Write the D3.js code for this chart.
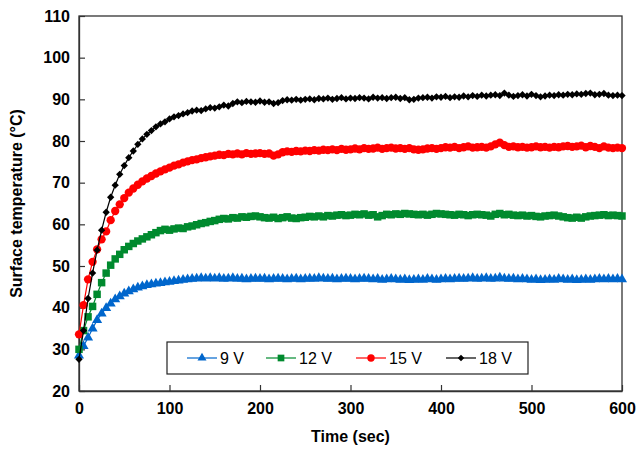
<!DOCTYPE html>
<html>
<head>
<meta charset="utf-8">
<script src="https://cdn.jsdelivr.net/npm/d3@7"></script>
<style>
  body { margin: 0; background: #fff; }
  svg text { font-family: "Liberation Sans", Arial, sans-serif; }
</style>
</head>
<body>
<div id="chart"></div>
<script>
// sampling every 5 s, 0..600
var times = d3.range(0, 601, 5);

var xTicks = [0, 100, 200, 300, 400, 500, 600];
var yTicks = [20, 30, 40, 50, 60, 70, 80, 90, 100, 110];

var v9 = [
    28.5, 30.8, 32.8, 35.0, 37.0, 38.6, 39.9, 41.0, 42.0, 42.7,
    43.4, 43.9, 44.4, 44.8, 45.1, 45.4, 45.6, 45.8, 45.9, 46.1,
    46.2, 46.4, 46.5, 46.7, 46.8, 46.9, 47.0, 47.1, 47.0, 47.1,
    47.0, 47.1, 46.9, 47.0, 47.1, 46.9, 47.0, 46.8, 46.9, 47.0,
    46.9, 47.0, 46.8, 46.9, 47.0, 46.9, 46.8, 46.9, 47.0, 46.8,
    46.9, 47.0, 46.9, 47.1, 47.0, 46.9, 47.0, 46.8, 46.9, 47.0,
    46.9, 46.8, 46.9, 47.0, 46.9, 46.8, 46.9, 46.7, 46.8, 46.9,
    46.8, 46.7, 46.8, 46.6, 46.7, 46.8, 46.7, 46.9, 46.8, 46.7,
    46.8, 46.9, 46.8, 46.9, 47.0, 46.9, 47.0, 47.1, 46.9, 47.0,
    47.1, 46.9, 47.0, 47.2, 47.0, 46.9, 47.0, 46.8, 46.9, 46.8,
    46.7, 46.8, 46.6, 46.7, 46.8, 46.7, 46.9, 46.8, 46.7, 46.8,
    46.6, 46.7, 46.8, 46.7, 46.8, 46.9, 46.8, 46.9, 46.8, 46.9,
    46.8
];

var v12 = [
    30.0, 34.5, 37.8, 40.3, 43.2, 46.0, 48.3, 50.2, 51.7, 52.8,
    53.9, 54.7, 55.4, 56.0, 56.5, 57.0, 57.5, 58.0, 58.5, 58.8,
    58.6, 58.9, 59.1, 59.0, 59.4, 59.6, 59.9, 60.2, 60.4, 60.7,
    60.9, 61.2, 61.4, 61.3, 61.6, 61.5, 61.8, 61.7, 61.9, 62.0,
    61.8, 61.6, 61.5, 61.7, 61.4, 61.6, 61.8, 61.5, 61.4, 61.6,
    61.7, 61.9, 61.8, 62.0, 61.8, 62.1, 62.0, 62.2, 62.3, 62.1,
    62.2, 62.4, 62.3, 62.5, 62.2, 62.3, 61.8, 62.1, 62.4, 62.3,
    62.5, 62.4, 62.6, 62.5, 62.4, 62.3, 62.4, 62.2, 62.4, 62.6,
    62.5, 62.4, 62.3, 62.2, 62.4, 62.3, 62.1, 62.3, 62.4, 62.3,
    62.2, 62.0, 62.4, 62.6, 62.3, 62.4, 62.2, 62.1, 62.2, 62.0,
    62.1, 61.9, 61.8, 62.0, 62.1, 62.2, 62.0, 61.8, 61.6, 61.5,
    61.7, 61.5, 61.8, 62.0, 62.1, 62.2, 62.3, 62.1, 62.2, 62.1,
    62.0
];

var v15 = [
    33.6, 40.6, 46.8, 51.0, 54.0, 56.4, 58.3, 61.0, 63.2, 64.8,
    66.3, 67.6, 68.6, 69.5, 70.3, 71.0, 71.6, 72.2, 72.7, 73.2,
    73.6, 74.1, 74.4, 74.8, 75.1, 75.4, 75.6, 75.9, 76.1, 76.3,
    76.5, 76.7, 76.6, 76.9, 76.8, 77.0, 76.8, 77.1, 76.9, 77.0,
    77.1, 76.9, 77.0, 76.5, 76.8, 77.3, 77.5, 77.4, 77.6, 77.5,
    77.7, 77.6, 77.8, 77.7, 77.9, 77.8, 78.0, 77.8, 78.1, 77.9,
    78.0, 78.2, 78.0, 78.3, 78.1, 78.2, 78.4, 78.1, 78.3, 78.4,
    78.2, 78.3, 78.1, 78.3, 78.0, 77.9, 78.0, 78.2, 78.3, 78.1,
    78.3, 78.5, 78.4, 78.6, 78.3, 78.5, 78.7, 78.4, 78.5, 78.6,
    78.4, 78.7, 79.2, 79.6, 79.0, 78.6, 78.7, 78.5, 78.6, 78.4,
    78.5, 78.7, 78.5, 78.6, 78.4, 78.6, 78.5, 78.7, 78.8, 78.6,
    78.7, 78.9, 78.5, 78.8, 78.6, 78.3, 78.7, 78.4, 78.3, 78.4,
    78.3
];

var v18 = [
    27.6, 34.5, 42.2, 48.3, 53.8, 58.6, 62.9, 66.5, 69.4, 72.0,
    74.1, 76.0, 77.6, 79.2, 80.5, 81.6, 82.5, 83.4, 84.1, 84.6,
    85.3, 85.8, 86.1, 86.5, 86.8, 87.2, 87.4, 87.3, 87.7, 88.0,
    87.9, 88.2, 88.6, 88.4, 89.0, 89.4, 89.2, 89.5, 89.4, 89.3,
    89.6, 89.3, 89.4, 89.0, 89.2, 89.7, 89.9, 89.8, 90.0, 89.8,
    90.0, 90.1, 89.9, 90.2, 90.1, 90.3, 90.0, 90.2, 90.4, 90.1,
    90.3, 90.2, 90.4, 90.3, 90.1, 90.5, 90.3, 90.4, 90.2, 90.4,
    90.5, 90.2, 90.4, 89.9, 90.0, 90.3, 90.4, 90.5, 90.3, 90.6,
    90.5, 90.7, 90.4, 90.6, 90.5, 90.8, 90.6, 90.9, 90.7, 91.0,
    90.8, 91.0, 91.1, 90.9, 91.5, 91.0, 90.7, 90.9, 91.1, 90.8,
    91.2, 90.9, 90.6, 90.8, 91.0, 90.9, 91.1, 91.0, 91.2, 91.1,
    91.3, 91.2, 91.4, 91.5, 91.1, 91.2, 91.4, 91.0, 90.9, 91.0,
    90.9
];

var seriesNames = ["9 V", "12 V", "15 V", "18 V"];
var seriesValues = [v9, v12, v15, v18];
var seriesColors = ["#0066cc", "#008a2e", "#ff0000", "#000000"];
var seriesSymbols = [d3.symbolTriangle, d3.symbolSquare, d3.symbolCircle, d3.symbolDiamond2];
var symbolSizes = [44, 56, 54, 34];

var width = 640, height = 449;
var margin = { left: 79, right: 18, top: 16, bottom: 58 };

var svg = d3.select("#chart").append("svg")
    .attr("width", width)
    .attr("height", height);

var x = d3.scaleLinear().domain([0, 600]).range([margin.left, width - margin.right]);
var y = d3.scaleLinear().domain([20, 110]).range([height - margin.bottom, margin.top]);

// plot frame
svg.append("rect")
    .attr("x", x(0))
    .attr("y", y(110))
    .attr("width", x(600) - x(0))
    .attr("height", y(20) - y(110))
    .attr("fill", "none")
    .attr("stroke", "#333")
    .attr("stroke-width", 1.3);

var xAxis = svg.append("g")
    .attr("transform", "translate(0," + y(20) + ")")
    .call(d3.axisBottom(x).tickValues(xTicks).tickSizeInner(-6).tickSizeOuter(0).tickPadding(12));

var yAxis = svg.append("g")
    .attr("transform", "translate(" + x(0) + ",0)")
    .call(d3.axisLeft(y).tickValues(yTicks).tickSizeInner(-6).tickSizeOuter(0).tickPadding(9));

[xAxis, yAxis].forEach(function (ax) {
    ax.select(".domain").attr("stroke", "#333").attr("stroke-width", 1.3);
    ax.selectAll(".tick line").attr("stroke", "#333").attr("stroke-width", 1.2);
    ax.selectAll(".tick text")
        .attr("fill", "#000")
        .style("font-size", "16px")
        .style("font-weight", "bold")
        .style("font-family", "'Liberation Sans', Arial, sans-serif");
});

// series
var line = d3.line()
    .x(function (d, i) { return x(times[i]); })
    .y(function (d) { return y(d); });

seriesValues.forEach(function (vals, k) {
    var g = svg.append("g");
    g.append("path")
        .datum(vals)
        .attr("d", line)
        .attr("fill", "none")
        .attr("stroke", seriesColors[k])
        .attr("stroke-width", 1.2);
    g.selectAll("path.mark")
        .data(vals)
        .enter().append("path")
        .attr("class", "mark")
        .attr("d", d3.symbol().type(seriesSymbols[k]).size(symbolSizes[k]))
        .attr("transform", function (d, i) {
            return "translate(" + x(times[i]) + "," + y(d) + ")";
        })
        .attr("fill", seriesColors[k]);
});

// legend
var legend = svg.append("g");
legend.append("rect")
    .attr("x", 167)
    .attr("y", 342)
    .attr("width", 361)
    .attr("height", 32)
    .attr("fill", "#fff")
    .attr("stroke", "#222")
    .attr("stroke-width", 1.2);

var legendX = [187, 266, 356, 446];
seriesNames.forEach(function (name, k) {
    var lx = legendX[k], ly = 358;
    legend.append("line")
        .attr("x1", lx).attr("x2", lx + 30)
        .attr("y1", ly).attr("y2", ly)
        .attr("stroke", seriesColors[k])
        .attr("stroke-width", 1.2);
    legend.append("path")
        .attr("d", d3.symbol().type(seriesSymbols[k]).size(symbolSizes[k] * 0.8))
        .attr("transform", "translate(" + (lx + 15) + "," + ly + ")")
        .attr("fill", seriesColors[k]);
    legend.append("text")
        .attr("x", lx + 33)
        .attr("y", ly)
        .attr("dy", "0.36em")
        .style("font-size", "16px")
        .text(name);
});

// axis titles
svg.append("text")
    .attr("x", (x(0) + x(600)) / 2)
    .attr("y", 442)
    .attr("text-anchor", "middle")
    .style("font-size", "16px")
    .style("font-weight", "bold")
    .text("Time (sec)");

svg.append("text")
    .attr("transform", "translate(22," + ((y(20) + y(110)) / 2) + ") rotate(-90)")
    .attr("text-anchor", "middle")
    .style("font-size", "16px")
    .style("font-weight", "bold")
    .text("Surface temperature (°C)");
</script>
</body>
</html>
